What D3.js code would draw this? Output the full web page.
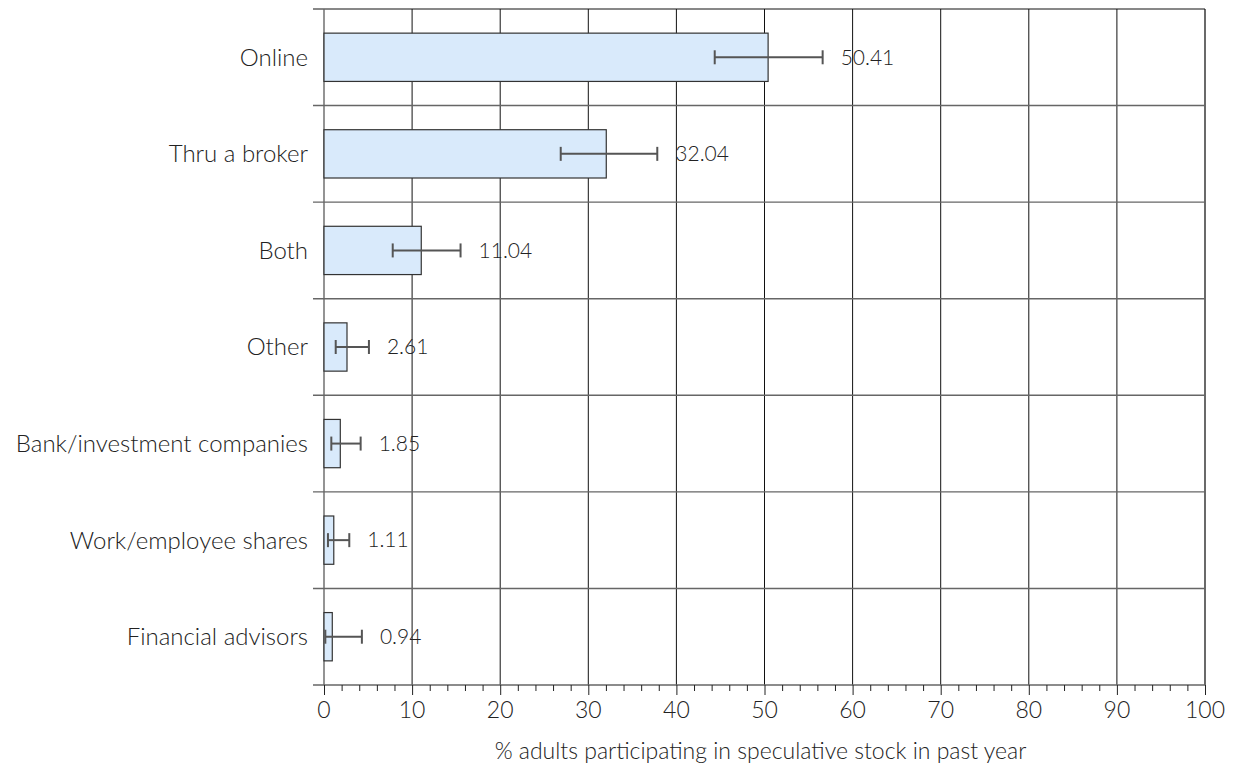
<!DOCTYPE html>
<html>
<head>
<meta charset="utf-8">
<script src="https://cdn.jsdelivr.net/npm/d3@7"></script>
<style>
  html, body { margin: 0; padding: 0; background: #fff; }
  svg { display: block; }
  text { font-family: "Lato", "Open Sans", sans-serif; font-weight: 300; fill: #222; }
</style>
</head>
<body>
<svg id="chart" width="1237" height="774"></svg>
<script>
const categories = ["Online", "Thru a broker", "Both", "Other", "Bank/investment companies", "Work/employee shares", "Financial advisors"];
const values = [50.41, 32.04, 11.04, 2.61, 1.85, 1.11, 0.94];
const errLow = [44.35, 26.87, 7.8, 1.33, 0.83, 0.45, 0.15];
const errHigh = [56.6, 37.83, 15.5, 5.1, 4.16, 2.87, 4.3];
const valueLabels = ["50.41", "32.04", "11.04", "2.61", "1.85", "1.11", "0.94"];
const xTicks = [0, 10, 20, 30, 40, 50, 60, 70, 80, 90, 100];
const xTitle = "% adults participating in speculative stock in past year";

const svg = d3.select("#chart");
const margin = { left: 324, right: 32, top: 9, bottom: 89 };
const W = 1237, H = 774;
const x = d3.scaleLinear().domain([0, 100]).range([margin.left, W - margin.right]);
const y = d3.scaleBand().domain(categories).range([margin.top, H - margin.bottom]).paddingInner(0).paddingOuter(0);
const bh = y.bandwidth() * 0.5;

// vertical grid lines
svg.append("g").selectAll("line").data(xTicks.slice(1)).join("line")
  .attr("x1", d => x(d)).attr("x2", d => x(d))
  .attr("y1", margin.top).attr("y2", H - margin.bottom)
  .attr("stroke", d => d === 100 ? "#444" : "#111")
  .attr("stroke-width", d => d === 100 ? 1.6 : 1);

// horizontal row separators (with outward ticks)
const bounds = categories.map(c => y(c)).concat([H - margin.bottom]);
svg.append("g").selectAll("line").data(bounds).join("line")
  .attr("x1", margin.left - 11).attr("x2", x(100))
  .attr("y1", d => d).attr("y2", d => d)
  .attr("stroke", (d, i) => i === 0 ? "#111" : "#666")
  .attr("stroke-width", (d, i) => i === 0 ? 1 : 1.4);

// left axis line
svg.append("line")
  .attr("x1", x(0)).attr("x2", x(0))
  .attr("y1", margin.top).attr("y2", H - margin.bottom)
  .attr("stroke", "#666").attr("stroke-width", 1.4);

// bottom axis
const xAxis = d3.axisBottom(x).tickValues(d3.range(0, 101, 2)).tickSize(6).tickFormat("");
const gx = svg.append("g").attr("transform", `translate(0,${H - margin.bottom})`).call(xAxis);
gx.select(".domain").remove();
gx.selectAll(".tick line").attr("stroke", "#222").attr("stroke-width", 1)
  .attr("y2", d => d % 10 === 0 ? 10 : 6);
svg.append("g").selectAll("text").data(xTicks).join("text")
  .attr("x", d => x(d)).attr("y", H - margin.bottom + 33)
  .attr("text-anchor", "middle")
  .style("font-size", "23px")
  .text(d => d);

svg.append("text")
  .attr("x", (x(0) + x(100)) / 2 - 4).attr("y", 759)
  .attr("text-anchor", "middle")
  .style("font-size", "23px")
  .text(xTitle);

// category labels
svg.append("g").selectAll("text").data(categories).join("text")
  .attr("x", x(0) - 16)
  .attr("y", d => y(d) + y.bandwidth() / 2)
  .attr("dy", "0.35em")
  .attr("text-anchor", "end")
  .style("font-size", "24px")
  .text(d => d);

// bars
svg.append("g").selectAll("rect").data(categories).join("rect")
  .attr("x", x(0))
  .attr("y", d => y(d) + (y.bandwidth() - bh) / 2)
  .attr("width", (d, i) => x(values[i]) - x(0))
  .attr("height", bh)
  .attr("fill", "#d9eafb")
  .attr("stroke", "#333")
  .attr("stroke-width", 1.2);

// error bars
const eg = svg.append("g").attr("stroke", "#555").attr("stroke-width", 2);
categories.forEach((c, i) => {
  const cy = y(c) + y.bandwidth() / 2;
  eg.append("line").attr("x1", x(errLow[i])).attr("x2", x(errHigh[i])).attr("y1", cy).attr("y2", cy);
  eg.append("line").attr("x1", x(errLow[i])).attr("x2", x(errLow[i])).attr("y1", cy - 7).attr("y2", cy + 7);
  eg.append("line").attr("x1", x(errHigh[i])).attr("x2", x(errHigh[i])).attr("y1", cy - 7).attr("y2", cy + 7);
});

// value labels
svg.append("g").selectAll("text").data(categories).join("text")
  .attr("x", (d, i) => x(errHigh[i]) + 18)
  .attr("y", d => y(d) + y.bandwidth() / 2)
  .attr("dy", "0.35em")
  .style("font-size", "21px")
  .text((d, i) => valueLabels[i]);
</script>
</body>
</html>
